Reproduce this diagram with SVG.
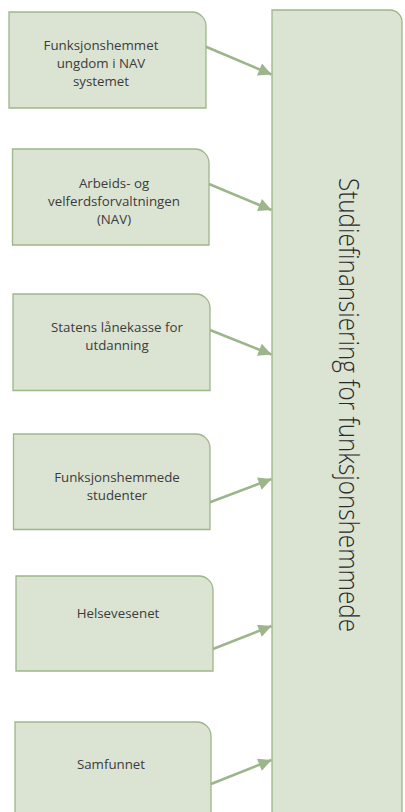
<svg xmlns="http://www.w3.org/2000/svg" width="405" height="812" viewBox="0 0 405 812">
<defs>
<style>
.box{fill:#dbe3d2;stroke:#9db68a;stroke-width:1.3}
.lbl{font-family:"Open Sans","Liberation Sans",sans-serif;font-size:13.3px;fill:#3c3c3c;text-anchor:middle}
.big{font-family:"Open Sans","Liberation Sans",sans-serif;font-weight:300;font-size:27px;fill:#2a2a2a;text-anchor:middle}
.conn{stroke:#9cb58a;stroke-width:2.6;fill:none;marker-end:url(#ah)}
</style>
<marker id="ah" viewBox="0 0 10 10" refX="10" refY="5" markerWidth="6" markerHeight="5" markerUnits="strokeWidth" orient="auto">
<path d="M0,0 L10,5 L0,10 Z" fill="#9cb58a"/>
</marker>
</defs>
<g id="target">
<path class="box" d="M272,10 H390 A12,12 0 0 1 402,22 V820 H272 Z"/>
<text class="big" x="339" y="405" transform="rotate(90 339 405)" textLength="454" lengthAdjust="spacingAndGlyphs">Studiefinansiering for funksjonshemmede</text>
</g>
<g id="n1">
<path class="box" d="M9,12 H192 A14,14 0 0 1 206,26 V108 H9 Z"/>
<text class="lbl" x="101"><tspan x="101" y="49.5">Funksjonshemmet</tspan><tspan x="101" y="67.5">ungdom i NAV</tspan><tspan x="101" y="85.5">systemet</tspan></text>
</g>
<g id="n2">
<path class="box" d="M12.5,149 H195 A14,14 0 0 1 209,163 V245 H12.5 Z"/>
<text class="lbl" x="114"><tspan x="114" y="188">Arbeids- og</tspan><tspan x="114" y="206">velferdsforvaltningen</tspan><tspan x="114" y="224">(NAV)</tspan></text>
</g>
<g id="n3">
<path class="box" d="M13,294 H196 A14,14 0 0 1 210,308 V390.5 H13 Z"/>
<text class="lbl" x="117"><tspan x="117" y="331.5">Statens lånekasse for</tspan><tspan x="117" y="350">utdanning</tspan></text>
</g>
<g id="n4">
<path class="box" d="M13.5,434 H196 A14,14 0 0 1 210,448 V529.5 H13.5 Z"/>
<text class="lbl" x="117"><tspan x="117" y="481.5">Funksjonshemmede</tspan><tspan x="117" y="500">studenter</tspan></text>
</g>
<g id="n5">
<path class="box" d="M16,576 H199 A14,14 0 0 1 213,590 V671 H16 Z"/>
<text class="lbl" x="118" y="618">Helsevesenet</text>
</g>
<g id="n6">
<path class="box" d="M15,722 H197 A14,14 0 0 1 211,736 V820 H15 Z"/>
<text class="lbl" x="111" y="769">Samfunnet</text>
</g>
<g id="connectors">
<line class="conn" x1="206" y1="46.7" x2="271.5" y2="74.5"/>
<line class="conn" x1="209" y1="184" x2="271.5" y2="210"/>
<line class="conn" x1="210" y1="330" x2="271.5" y2="354.5"/>
<line class="conn" x1="210" y1="502.3" x2="271.5" y2="479"/>
<line class="conn" x1="213" y1="649" x2="271.5" y2="626"/>
<line class="conn" x1="211" y1="784" x2="271.5" y2="760"/>
</g>
</svg>
